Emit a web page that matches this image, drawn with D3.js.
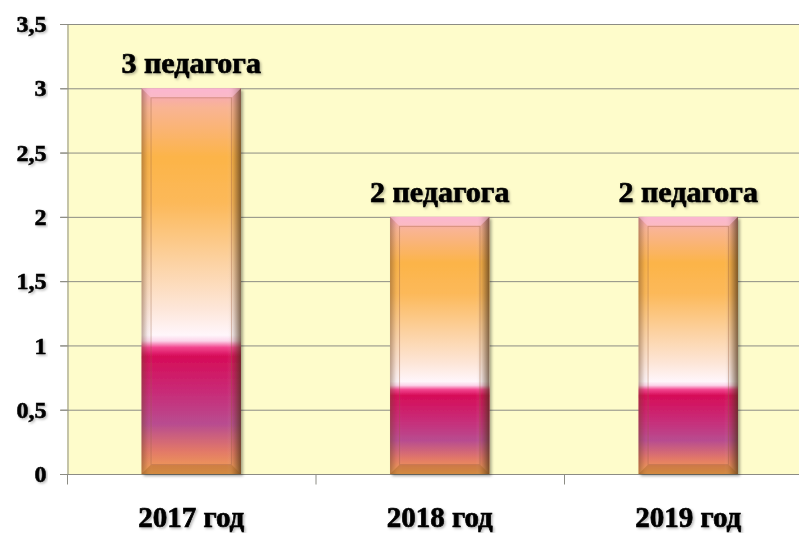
<!DOCTYPE html>
<html><head><meta charset="utf-8">
<script src="https://cdn.jsdelivr.net/npm/d3@7"></script>
<style>html,body{margin:0;padding:0;background:#fff;}svg{display:block;}</style>
</head><body>
<svg id="chart" width="799" height="533"></svg>
<script>
const categories = ["2017 год", "2018 год", "2019 год"];
const values = [3, 2, 2];
const barLabels = ["3 педагога", "2 педагога", "2 педагога"];
const yTicks = [0, 0.5, 1, 1.5, 2, 2.5, 3, 3.5];

(function () {
const svg = d3.select("#chart");
const pL = 67, pR = 812.5, pT = 24, pB = 474;
const x = d3.scaleBand().domain(categories).range([pL, pR]).paddingInner(0.6).paddingOuter(0.3);
const y = d3.scaleLinear().domain([0, 3.5]).range([pB, pT]);
const font = "'Liberation Serif','Times New Roman',serif";
const fmt = v => String(v).replace(".", ",");

const defs = svg.append("defs");
const vg = defs.append("linearGradient").attr("id", "vg").attr("x1", 0).attr("y1", 0).attr("x2", 0).attr("y2", 1);
[[0,"#f6a4c0"],[0.05,"#f9b494"],[0.18,"#fcb448"],[0.3,"#fcb95a"],[0.45,"#fcd2a2"],[0.57,"#fde6d8"],[0.64,"#fff6fb"],[0.655,"#fcd4ea"],[0.672,"#f2448e"],[0.695,"#d60c58"],[0.79,"#c82c78"],[0.87,"#b84c90"],[0.94,"#e27868"],[1,"#f2a452"]]
  .forEach(([o,c]) => vg.append("stop").attr("offset", o).attr("stop-color", c));
const hg = defs.append("linearGradient").attr("id", "hg").attr("x1", 0).attr("y1", 0).attr("x2", 1).attr("y2", 0);
[[0,"rgba(110,70,40,0.45)"],[0.06,"rgba(110,70,40,0.08)"],[0.12,"rgba(255,255,255,0)"],[0.86,"rgba(255,255,255,0)"],[0.92,"rgba(90,60,30,0.15)"],[1,"rgba(70,45,20,0.7)"]]
  .forEach(([o,c]) => hg.append("stop").attr("offset", o).attr("stop-color", c));
const sh = defs.append("filter").attr("id", "sh").attr("x", "-20%").attr("y", "-20%").attr("width", "140%").attr("height", "140%");
sh.append("feDropShadow").attr("dx", 2).attr("dy", 2).attr("stdDeviation", 1.5).attr("flood-color", "#000").attr("flood-opacity", 0.35);
const ts = defs.append("filter").attr("id", "ts").attr("x", "-10%").attr("y", "-30%").attr("width", "120%").attr("height", "160%");
ts.append("feDropShadow").attr("dx", 1.5).attr("dy", 1.5).attr("stdDeviation", 1.2).attr("flood-color", "#000").attr("flood-opacity", 0.28);

svg.append("rect").attr("x", pL).attr("y", pT).attr("width", 799 - pL).attr("height", pB - pT).attr("fill", "#fefccb");

svg.append("g").selectAll("line").data(yTicks.filter(d => d > 0)).join("line")
  .attr("x1", pL - 7).attr("x2", 799).attr("y1", d => y(d) + 0.5).attr("y2", d => y(d) + 0.5)
  .attr("stroke", "#8c8c84").attr("stroke-width", 1);

const yAxis = svg.append("g").attr("transform", `translate(${pL + 0.5},0)`)
  .call(d3.axisLeft(y).tickValues(yTicks).tickSize(7).tickFormat(fmt));
yAxis.select(".domain").attr("stroke", "#8c8c84");
yAxis.selectAll(".tick line").attr("stroke", "#8c8c84");
yAxis.selectAll(".tick text").attr("x", -21).attr("font-family", font).attr("font-weight", "bold")
  .attr("font-size", 24).attr("fill", "#000").attr("stroke", "#000").attr("stroke-width", 0.6)
  .attr("filter", "url(#ts)");

const xAxisG = svg.append("g").attr("transform", `translate(0,${pB + 0.5})`);
xAxisG.append("line").attr("x1", pL - 7).attr("x2", 799).attr("stroke", "#8c8c84");
xAxisG.selectAll("line.tk").data(d3.range(categories.length + 1)).join("line").attr("class", "tk")
  .attr("x1", i => pL + i * x.step() + 0.5).attr("x2", i => pL + i * x.step() + 0.5)
  .attr("y1", 0).attr("y2", 10).attr("stroke", "#8c8c84");
xAxisG.selectAll("text").data(categories).join("text")
  .attr("x", d => x(d) + x.bandwidth() / 2).attr("y", 52)
  .attr("text-anchor", "middle").attr("font-family", font).attr("font-weight", "bold")
  .attr("font-size", 29).attr("fill", "#000").attr("stroke", "#000").attr("stroke-width", 0.7)
  .attr("filter", "url(#ts)").text(d => d);

const bars = svg.append("g").selectAll("g").data(categories.map((c, i) => ({c, v: values[i], l: barLabels[i]}))).join("g");
const bv = 9;
bars.append("rect").attr("x", d => x(d.c)).attr("y", d => y(d.v)).attr("width", x.bandwidth())
  .attr("height", d => y(0) - y(d.v)).attr("fill", "url(#vg)").attr("filter", "url(#sh)");
bars.append("rect").attr("x", d => x(d.c)).attr("y", d => y(d.v)).attr("width", x.bandwidth())
  .attr("height", d => y(0) - y(d.v)).attr("fill", "url(#hg)");
bars.append("path").attr("d", d => {
  const x0 = x(d.c), x1 = x0 + x.bandwidth(), y0 = y(d.v);
  return `M${x0},${y0}L${x1},${y0}L${x1 - bv},${y0 + bv}L${x0 + bv},${y0 + bv}Z`;
}).attr("fill", "rgba(255,200,225,0.5)");
bars.append("path").attr("d", d => {
  const x0 = x(d.c), x1 = x0 + x.bandwidth(), y0 = y(0);
  return `M${x0},${y0}L${x1},${y0}L${x1 - bv},${y0 - bv}L${x0 + bv},${y0 - bv}Z`;
}).attr("fill", "rgba(140,80,20,0.3)");
bars.append("rect").attr("x", d => x(d.c) + bv + 0.5).attr("y", d => y(d.v) + bv + 0.5)
  .attr("width", x.bandwidth() - 2 * bv - 1).attr("height", d => y(0) - y(d.v) - 2 * bv - 1)
  .attr("fill", "none").attr("stroke", "rgba(150,90,60,0.35)").attr("stroke-width", 1);

bars.append("text").attr("x", d => x(d.c) + x.bandwidth() / 2).attr("y", d => y(d.v) - 15)
  .attr("text-anchor", "middle").attr("font-family", font).attr("font-weight", "bold")
  .attr("font-size", 30).attr("fill", "#000").attr("stroke", "#000").attr("stroke-width", 0.7)
  .attr("filter", "url(#ts)").text(d => d.l);
})();
</script>
</body></html>
